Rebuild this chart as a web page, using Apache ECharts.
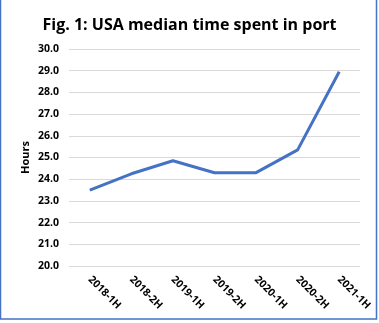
<!DOCTYPE html>
<html>
<head>
<meta charset="utf-8">
<script src="https://cdn.jsdelivr.net/npm/echarts@6/dist/echarts.min.js"></script>
<style>
  html, body { margin: 0; padding: 0; background: #fff; }
  #chart { width: 379px; height: 323px; }
</style>
</head>
<body>
<div id="chart"></div>
<script>
// Half-year periods and median hours in port
const periods = ['2018-1H', '2018-2H', '2019-1H', '2019-2H', '2020-1H', '2020-2H', '2021-1H'];
const medianHours = [23.5, 24.25, 24.85, 24.3, 24.3, 25.35, 28.95];
const yMin = 20, yMax = 30, yStep = 1;

const chart = echarts.init(document.getElementById('chart'), null, { renderer: 'canvas' });
const labelFont = 'Open Sans';

chart.setOption({
  animation: false,
  backgroundColor: '#ffffff',
  title: {
    text: 'Fig. 1: USA median time spent in port',
    left: 'center',
    top: 12,
    textStyle: { fontFamily: labelFont, fontWeight: 'bold', fontSize: 16, color: '#000' }
  },
  graphic: [{
    type: 'rect',
    shape: { x: 0.5, y: -2, width: 376, height: 321 },
    style: { fill: 'none', stroke: '#4472C4', lineWidth: 1.5 },
    silent: true
  }],
  grid: { left: 69, right: 19, top: 49, bottom: 57 },
  xAxis: {
    type: 'category',
    data: periods,
    boundaryGap: true,
    axisLine: { show: false },
    axisTick: { show: false },
    axisLabel: {
      rotate: -45,
      margin: 12,
      interval: 0,
      fontFamily: labelFont,
      fontWeight: 'bold',
      fontSize: 10.5,
      color: '#000'
    }
  },
  yAxis: {
    type: 'value',
    min: yMin,
    max: yMax,
    interval: yStep,
    name: 'Hours',
    nameLocation: 'middle',
    nameGap: 38,
    nameMoveOverlap: false,
    nameTextStyle: { fontFamily: labelFont, fontWeight: 'bold', fontSize: 11, color: '#000' },
    axisLine: { show: false },
    axisTick: { show: false },
    splitLine: { lineStyle: { color: '#d9d9d9', width: 1 } },
    axisLabel: {
      margin: 10,
      fontFamily: labelFont,
      fontWeight: 'bold',
      fontSize: 10.5,
      color: '#000',
      formatter: v => v.toFixed(1)
    }
  },
  series: [{
    type: 'line',
    data: medianHours,
    showSymbol: false,
    lineStyle: { color: '#4472C4', width: 3 },
    itemStyle: { color: '#4472C4' }
  }]
});
</script>
</body>
</html>
